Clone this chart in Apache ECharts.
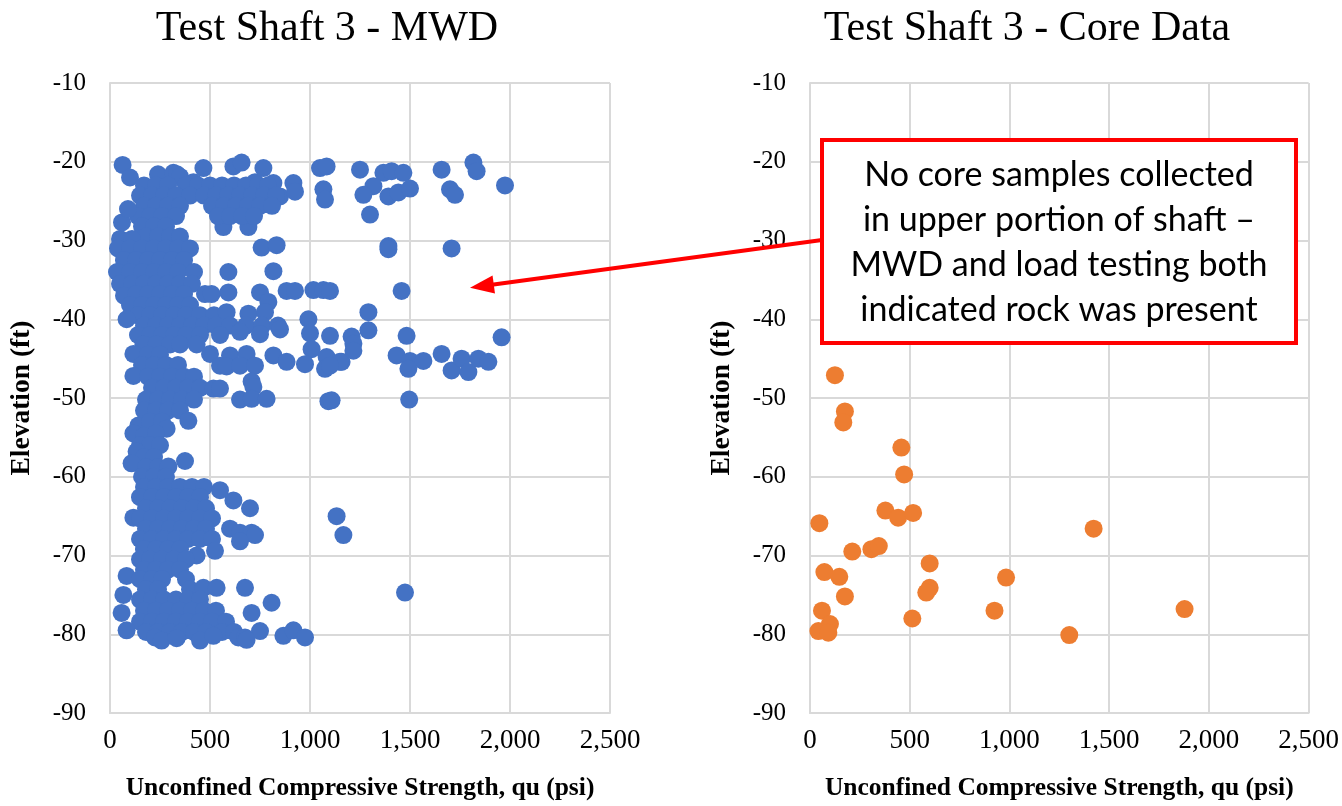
<!DOCTYPE html>
<html>
<head>
<meta charset="utf-8">
<script src="https://cdn.jsdelivr.net/npm/echarts@6/dist/echarts.min.js"></script>
<style>
html,body{margin:0;padding:0;background:#fff;}
#chart{width:1342px;height:806px;}
</style>
</head>
<body>
<div id="chart"></div>
<script>
// ---------- DATA ----------
const titles = ['Test Shaft 3 - MWD', 'Test Shaft 3 - Core Data'];
const xAxisName = 'Unconfined Compressive Strength, qu (psi)';
const yAxisName = 'Elevation (ft)';
const xTicks = [0, 500, 1000, 1500, 2000, 2500];
const yTicks = [-10, -20, -30, -40, -50, -60, -70, -80, -90];
const noteLines = ['No core samples collected', 'in upper portion of shaft –', 'MWD and load testing both', 'indicated rock was present'];
const arrowTarget = [1800, -36];

// MWD points [qu (psi), elevation (ft)]
const mwdUpper = [
  [63,-20.4],[100,-22],[240,-21.6],[317,-21.4],[335,-21.6],[350,-21.9],[417,-22.6],[467,-20.8],[617,-20.6],[658,-20.1],
  [725,-22.6],[767,-20.8],[817,-22.7],[850,-24.4],[917,-22.7],[925,-23.8],[1050,-20.8],[1083,-20.6],[1067,-23.5],[1075,-24.8],
  [1250,-21],[1367,-21.4],[1408,-21.2],[1467,-21.4],[1317,-23.1],[1267,-24.2],[1392,-24.4],[1442,-23.9],[1500,-23.4],[1658,-21],
  [1817,-20.1],[1833,-21.2],[1700,-23.5],[1725,-24.2],[1975,-23],[1300,-26.7],[567,-28.3],[692,-28.3],[758,-30.9],[833,-30.6],
  [1392,-30.7],[1392,-31.1],[1708,-31],
  [170,-23],[230,-23],[290,-23],[380,-23],[440,-23],[500,-23],[560,-23],[620,-23],[680,-23],[740,-23],[790,-23],
  [150,-24.3],[210,-24.3],[270,-24.3],[330,-24.3],[400,-24.3],[470,-24.3],[530,-24.3],[590,-24.3],[650,-24.3],[710,-24.3],[770,-24.3],[830,-24.3],
  [170,-25.6],[230,-25.6],[290,-25.6],[350,-25.6],[510,-25.6],[570,-25.6],[630,-25.6],[690,-25.6],[750,-25.6],[810,-25.6],
  [140,-26.9],[200,-26.9],[260,-26.9],[330,-26.9],[540,-26.9],[600,-26.9],[660,-26.9],[720,-26.9],
  [60,-27.7],[160,-28.2],[220,-28.2],[280,-28.2],[90,-26],
  [50,-29.8],[180,-29.5],[240,-29.5],[300,-29.5],[350,-29.5],[110,-29.8]
];
const mwdMiddle = [
  [40,-31],[100,-31],[160,-31],[220,-31],[280,-31],[340,-31],[400,-31],
  [70,-32.5],[130,-32.5],[190,-32.5],[250,-32.5],[310,-32.5],[370,-32.5],
  [35,-34],[100,-34],[160,-34],[220,-34],[280,-34],[340,-34],[420,-34],[592,-34],[817,-33.9],
  [50,-35.5],[110,-35.5],[170,-35.5],[230,-35.5],[290,-35.5],[350,-35.5],[410,-35.5],
  [70,-37],[130,-36.8],[190,-36.8],[250,-36.8],[310,-36.8],[370,-36.8],[475,-36.8],[508,-36.8],[592,-36.6],[750,-36.6],[792,-37.8],
  [883,-36.4],[925,-36.4],[1017,-36.3],[1067,-36.3],[1100,-36.4],[1458,-36.4],
  [100,-38.2],[160,-38.2],[220,-38.2],[280,-38.2],[340,-38.2],[400,-38.2],
  [140,-39.5],[200,-39.5],[260,-39.5],[320,-39.5],[380,-39.5],[450,-39.5],[520,-39.5],[583,-39.1],[692,-39.3],[775,-39.1],[1292,-39.1],
  [83,-40],[170,-40.8],[230,-40.8],[290,-40.8],[350,-40.8],[410,-40.8],[470,-40.8],[530,-40.8],[600,-40.8],[680,-40.8],[760,-40.8],[840,-40.8],[992,-40],
  [140,-42],[200,-42],[260,-42],[320,-42],[380,-42],[450,-42],[550,-42],[650,-41.6],[750,-41.9],[850,-41.3],[1000,-41.8],[1100,-42.1],[1208,-42.2],
  [1217,-43.1],[1292,-41.4],[1483,-42.1],[1958,-42.3],
  [167,-43.2],[233,-43.2],[300,-43.2],[350,-43.2],[433,-43.2],
  [117,-44.4],[190,-44.5],[250,-44.5],[500,-44.4],[600,-44.6],[683,-44.4],[817,-44.6],[1008,-43.8],[1083,-44.8],[1217,-44],
  [1433,-44.6],[1500,-45.3],[1567,-45.3],[1492,-46.3],[1658,-44.4],[1708,-46.5],[1758,-45],[1792,-46.7],[1842,-45],[1892,-45.4],
  [160,-45.8],[220,-45.8],[280,-45.8],[340,-45.8],[550,-45.9],[583,-46],[650,-45.9],[725,-45.9],[883,-45.4],[975,-45.7],
  [1075,-46.3],[1158,-45.4],[1150,-45.4],[1100,-45.9],
  [117,-47.2],[190,-47.3],[250,-47.3],[310,-47.3],[370,-47.3],[420,-47.3],[708,-47.9],
  [210,-48.7],[270,-48.7],[330,-48.7],[390,-48.7],[450,-48.7],[517,-48.8],[550,-48.8],[717,-48.6],
  [180,-50.2],[240,-50.2],[300,-50.2],[360,-50.2],[420,-50.2],[650,-50.2],[708,-50.1],[783,-50.1],[1092,-50.4],[1108,-50.3],[1496,-50.2],
  [170,-51.6],[230,-51.6],[290,-51.6],[350,-51.6]
];
const mwdLower = [
  [392,-52.9],[142,-53.5],[200,-53],[260,-53],[283,-53.9],[117,-54.5],[170,-54.8],[230,-54.5],
  [150,-56],[200,-56],[250,-56],[133,-56.8],[170,-57.5],[220,-57.5],
  [108,-58.3],[180,-58.8],[240,-58.8],[292,-58.7],[375,-58],[160,-60],[220,-60],[280,-60],
  [170,-61.3],[230,-61.3],[290,-61.3],[350,-61.3],[410,-61.3],[470,-61.3],[550,-61.7],
  [150,-62.6],[210,-62.6],[270,-62.6],[330,-62.6],[390,-62.6],[450,-62.6],[617,-63],
  [180,-64],[240,-64],[300,-64],[360,-64],[420,-64],[480,-64],[700,-64],
  [117,-65.2],[150,-65.3],[210,-65.3],[270,-65.3],[330,-65.3],[390,-65.3],[450,-65.3],[510,-65.3],[1133,-65],
  [180,-66.6],[240,-66.6],[300,-66.6],[360,-66.6],[420,-66.6],[480,-66.6],[600,-66.6],
  [150,-67.9],[210,-67.9],[270,-67.9],[330,-67.9],[390,-67.9],[450,-67.9],[510,-67.9],[650,-67.1],[708,-67.1],[725,-67.4],[1167,-67.4],
  [170,-69.2],[230,-69.2],[290,-69.2],[350,-69.2],[433,-70],[525,-69.4],[650,-68.2],
  [150,-70.5],[200,-70.5],[260,-70.5],[320,-70.5],[380,-70.5],
  [170,-71.8],[230,-71.8],[290,-71.8],[350,-71.8],
  [83,-72.6],[150,-73],[210,-73],[260,-73],[380,-73],
  [67,-75],[180,-74.3],[240,-74.3],[400,-74.3],[467,-74.1],[533,-74.1],[675,-74.1],
  [150,-75.6],[210,-75.6],[270,-75.6],[330,-75.6],[390,-75.6],[450,-75.6],[808,-76],[1475,-74.7],
  [58,-77.3],[170,-77],[230,-77],[290,-77],[350,-77],[410,-77],[470,-77],[530,-77],[708,-77.3],
  [150,-78.4],[210,-78.4],[270,-78.4],[330,-78.4],[390,-78.4],[450,-78.4],[510,-78.4],[580,-78.4],
  [83,-79.5],[180,-79.7],[240,-79.7],[300,-79.7],[360,-79.7],[420,-79.7],[480,-79.7],[560,-79.7],[620,-79.7],[750,-79.6],
  [225,-80.4],[258,-80.8],[333,-80.5],[450,-80.8],[517,-80.2],[642,-80.4],[675,-80.4],[683,-80.7],[867,-80.2],[917,-79.5],[975,-80.4]
];
// Core data points [qu (psi), elevation (ft)]
const coreData = [
  [125,-47.1],[175,-51.7],[167,-53.1],[458,-56.3],[472,-59.7],[378,-64.3],[442,-65.2],[517,-64.6],[47,-65.9],[1422,-66.6],
  [212,-69.5],[308,-69.2],[345,-68.8],[600,-71],[983,-72.8],[72,-72.1],[147,-72.7],[600,-74.1],[583,-74.7],[175,-75.2],
  [60,-77],[925,-77],[1878,-76.8],[513,-78],[1300,-80.1],[100,-78.7],[42,-79.6],[92,-79.8]
];

// ---------- CHART ----------
const SERIF = "'Liberation Serif','Times New Roman',serif";
const chart = echarts.init(document.getElementById('chart'), null, {renderer: 'canvas'});
const gridColor = '#d9d9d9';

function xAxisCfg(i) {
  return {
    gridIndex: i, type: 'value', min: xTicks[0], max: xTicks[xTicks.length - 1], interval: xTicks[1] - xTicks[0],
    name: xAxisName, nameLocation: 'middle', nameGap: 62,
    nameTextStyle: {fontFamily: SERIF, fontWeight: 'bold', fontSize: 25.5, color: '#000'},
    axisLine: {show: true, lineStyle: {color: gridColor, width: 2}},
    axisTick: {show: false},
    axisLabel: {fontFamily: SERIF, fontSize: 27, color: '#000', margin: 14,
      formatter: v => v.toLocaleString('en-US')},
    splitLine: {show: true, lineStyle: {color: gridColor, width: 2}}
  };
}
function yAxisCfg(i) {
  return {
    gridIndex: i, type: 'value', min: yTicks[yTicks.length - 1], max: yTicks[0], interval: yTicks[0] - yTicks[1],
    name: yAxisName, nameLocation: 'middle', nameGap: 74,
    nameTextStyle: {fontFamily: SERIF, fontWeight: 'bold', fontSize: 27.5, color: '#000'},
    axisLine: {show: true, lineStyle: {color: gridColor, width: 2}},
    axisTick: {show: false},
    axisLabel: {fontFamily: SERIF, fontSize: 25, color: '#000', margin: 24},
    splitLine: {show: true, lineStyle: {color: gridColor, width: 2}}
  };
}

const option = {
  backgroundColor: '#fff',
  animation: false,
  title: [
    {text: titles[0], left: 322, top: 3, textAlign: 'center',
     textStyle: {fontFamily: SERIF, fontWeight: 'normal', fontSize: 42, color: '#000'}},
    {text: titles[1], left: 1022, top: 3, textAlign: 'center',
     textStyle: {fontFamily: SERIF, fontWeight: 'normal', fontSize: 42, color: '#000'}}
  ],
  grid: [
    {left: 110, top: 83, width: 500, height: 633},
    {left: 810, top: 83, width: 500, height: 633}
  ],
  xAxis: [xAxisCfg(0), xAxisCfg(1)],
  yAxis: [yAxisCfg(0), yAxisCfg(1)],
  series: [
    {type: 'scatter', xAxisIndex: 0, yAxisIndex: 0, symbolSize: 18,
     itemStyle: {color: '#4472C4', opacity: 1}, data: mwdUpper.concat(mwdMiddle, mwdLower)},
    {type: 'scatter', xAxisIndex: 1, yAxisIndex: 1, symbolSize: 18,
     itemStyle: {color: '#ED7D31', opacity: 1}, data: coreData}
  ]
};
chart.setOption(option);

// ---------- ANNOTATION ----------
const box = {x: 822, y: 140, w: 474, h: 203};
const tip = chart.convertToPixel({gridIndex: 0}, arrowTarget);
const start = [box.x, 240];
const dx = start[0] - tip[0], dy = start[1] - tip[1];
const len = Math.sqrt(dx * dx + dy * dy);
const ux = dx / len, uy = dy / len;
const headL = 24, headW = 9;
const base = [tip[0] + ux * headL, tip[1] + uy * headL];
const headPts = [tip, [base[0] - uy * headW, base[1] + ux * headW], [base[0] + uy * headW, base[1] - ux * headW]];

const graphics = [
  {type: 'line', z: 100, shape: {x1: start[0], y1: start[1], x2: base[0] - ux * 2, y2: base[1] - uy * 2},
   style: {stroke: '#ff0000', lineWidth: 4}},
  {type: 'polygon', z: 100, shape: {points: headPts}, style: {fill: '#ff0000'}},
  {type: 'rect', z: 100, shape: {x: box.x, y: box.y, width: box.w, height: box.h},
   style: {fill: '#fff', stroke: '#ff0000', lineWidth: 4}}
];
noteLines.forEach((t, i) => {
  graphics.push({type: 'text', z: 101, x: box.x + box.w / 2, y: 175 + i * 45,
    style: {text: t, fill: '#000', font: "34px Lato, 'Open Sans', sans-serif", textAlign: 'center', textVerticalAlign: 'middle'}});
});
chart.setOption({graphic: graphics});
</script>
</body>
</html>
